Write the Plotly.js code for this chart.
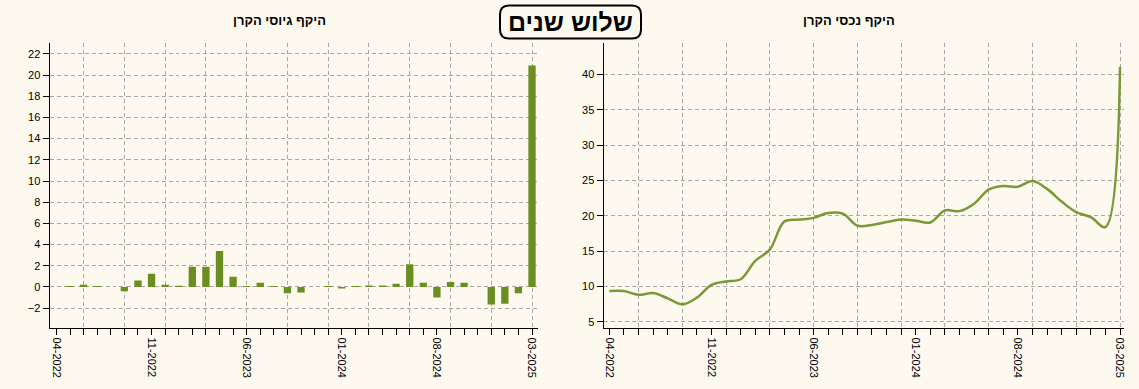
<!DOCTYPE html>
<html>
<head>
<meta charset="utf-8">
<script src="https://cdn.plot.ly/plotly-3.0.1.min.js"></script>
<style>
  html, body { margin: 0; padding: 0; background: #fdf9ee; }
  #chart { width: 1139px; height: 389px; }
</style>
</head>
<body>
<div id="chart"></div>
<script>
// ---- data ----
const months = [
  "04-2022","05-2022","06-2022","07-2022","08-2022","09-2022","10-2022","11-2022","12-2022",
  "01-2023","02-2023","03-2023","04-2023","05-2023","06-2023","07-2023","08-2023","09-2023",
  "10-2023","11-2023","12-2023","01-2024","02-2024","03-2024","04-2024","05-2024","06-2024",
  "07-2024","08-2024","09-2024","10-2024","11-2024","12-2024","01-2025","02-2025","03-2025"
];
const fundraising = [
  0, 0.1, 0.2, 0.1, 0, -0.4, 0.6, 1.25, 0.2,
  0.12, 1.9, 1.9, 3.4, 0.97, 0.1, 0.4, 0.1, -0.6,
  -0.53, 0, 0.1, -0.15, 0.1, 0.15, 0.15, 0.3, 2.15,
  0.4, -1.0, 0.47, 0.4, 0, -1.65, -1.58, -0.6, 20.9
];
const assets = [
  9.34, 9.34, 8.8, 9.05, 8.3, 7.45, 8.4, 10.2, 10.7,
  11.0, 13.6, 15.2, 19.2, 19.45, 19.7, 20.4, 20.3, 18.6,
  18.7, 19.1, 19.45, 19.3, 19.05, 20.75, 20.65, 21.7, 23.7,
  24.2, 24.1, 24.9, 23.8, 22.0, 20.5, 19.8, 18.4, 41.1
];
const mainTitle = "שלוש שנים";
const leftTitle = "היקף גיוסי הקרן";
const rightTitle = "היקף נכסי הקרן";
const leftYTicks = [-2, 0, 2, 4, 6, 8, 10, 12, 14, 16, 18, 20, 22];
const rightYTicks = [5, 10, 15, 20, 25, 30, 35, 40];

// ---- derived ----
const idx = months.map((m, i) => i);
const tickText = months.map((m, i) => (i % 7 === 0 ? m : ""));
const gridIdx = idx.filter(i => i % 3 === 2);

const W = 1139, H = 389;
const px = x => x / W;
const py = y => 1 - y / H;

const bg = "#fdf9ee";
const olive = "#6b8e23";
const gridColor = "#a8a8a8";
const gridDash = "4px,3px";
const tickFont = { family: "Liberation Sans, Arial, sans-serif", size: 11, color: "#000" };

const yDomain = [py(328.3), py(42.7)];
const leftDomain = [px(49.5), px(538)];
const rightDomain = [px(603.5), px(1123.5)];
const leftRange = [-0.51, 35.44];
const rightRange = [-0.4, 35.24];

const baseX = {
  tickmode: "array", tickvals: idx, ticktext: tickText, tickangle: 90,
  ticks: "outside", ticklen: 6, tickcolor: "#000", tickwidth: 1,
  showline: true, linecolor: "#000", linewidth: 1,
  showgrid: false, zeroline: false, tickfont: tickFont, fixedrange: true
};
const gridX = {
  tickmode: "array", tickvals: gridIdx, showticklabels: false, ticks: "",
  showline: false, showgrid: true, gridcolor: gridColor, griddash: gridDash,
  gridwidth: 1, zeroline: false, fixedrange: true
};
const baseY = {
  tickmode: "array", ticks: "outside", ticklen: 6, tickcolor: "#000", tickwidth: 1,
  showline: true, linecolor: "#000", linewidth: 1,
  showgrid: true, gridcolor: gridColor, griddash: gridDash, gridwidth: 1,
  zeroline: false, tickfont: tickFont, fixedrange: true, domain: yDomain
};

const traces = [
  { type: "bar", x: idx, y: fundraising, xaxis: "x", yaxis: "y",
    marker: { color: olive }, hoverinfo: "skip" },
  { type: "scatter", mode: "lines", x: idx, y: assets, xaxis: "x2", yaxis: "y2",
    line: { color: olive, width: 2.5, shape: "spline", smoothing: 1 },
    opacity: 0.9, hoverinfo: "skip" },
  { type: "scatter", x: [], y: [], xaxis: "x3", yaxis: "y", hoverinfo: "skip" },
  { type: "scatter", x: [], y: [], xaxis: "x4", yaxis: "y2", hoverinfo: "skip" }
];

// rounded box for main title (pixel coords -> paper)
function roundedRect(x0, y0, x1, y1, r) {
  const p = (x, y) => px(x) + "," + py(y);
  return "M" + p(x0 + r, y0) + " L" + p(x1 - r, y0) +
    " Q" + p(x1, y0) + " " + p(x1, y0 + r) +
    " L" + p(x1, y1 - r) + " Q" + p(x1, y1) + " " + p(x1 - r, y1) +
    " L" + p(x0 + r, y1) + " Q" + p(x0, y1) + " " + p(x0, y1 - r) +
    " L" + p(x0, y0 + r) + " Q" + p(x0, y0) + " " + p(x0 + r, y0) + " Z";
}

const layout = {
  width: W, height: H,
  margin: { l: 0, r: 0, t: 0, b: 0 },
  paper_bgcolor: bg, plot_bgcolor: bg,
  showlegend: false, bargap: 0.46,
  xaxis: Object.assign({}, baseX, { domain: leftDomain, range: leftRange, anchor: "y" }),
  xaxis3: Object.assign({}, gridX, { overlaying: "x", range: leftRange, anchor: "y" }),
  yaxis: Object.assign({}, baseY, { range: [-3.9, 23.05], tickvals: leftYTicks, anchor: "x" }),
  xaxis2: Object.assign({}, baseX, { domain: rightDomain, range: rightRange, anchor: "y2" }),
  xaxis4: Object.assign({}, gridX, { overlaying: "x2", range: rightRange, anchor: "y2" }),
  yaxis2: Object.assign({}, baseY, { range: [4.06, 44.5], tickvals: rightYTicks, anchor: "x2" }),
  shapes: [
    { type: "path", xref: "paper", yref: "paper", path: roundedRect(500, 5.5, 641, 38.5, 9),
      line: { color: "#000", width: 2 }, fillcolor: "rgba(0,0,0,0)" }
  ],
  annotations: [
    { text: "<b>" + mainTitle + "</b>", xref: "paper", yref: "paper",
      x: px(570.5), y: py(22.5), xanchor: "center", yanchor: "middle", showarrow: false,
      font: { family: "Liberation Sans, Arial, sans-serif", size: 25, color: "#000" } },
    { text: "<b>" + leftTitle + "</b>", xref: "paper", yref: "paper",
      x: px(279), y: py(20.5), xanchor: "center", yanchor: "middle", showarrow: false,
      font: { family: "Liberation Sans, Arial, sans-serif", size: 13, color: "#000" } },
    { text: "<b>" + rightTitle + "</b>", xref: "paper", yref: "paper",
      x: px(849), y: py(20.5), xanchor: "center", yanchor: "middle", showarrow: false,
      font: { family: "Liberation Sans, Arial, sans-serif", size: 13, color: "#000" } }
  ]
};

Plotly.newPlot("chart", traces, layout, { displayModeBar: false, staticPlot: true });
</script>
</body>
</html>
